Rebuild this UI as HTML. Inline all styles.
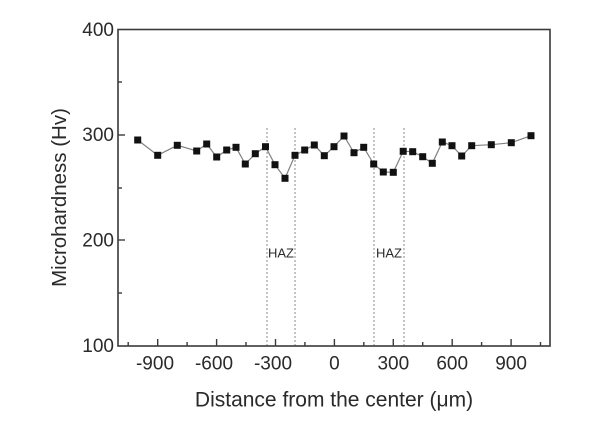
<!DOCTYPE html>
<html><head><meta charset="utf-8"><style>
html,body{margin:0;padding:0;background:#fff;}
svg{display:block;}
text{font-family:"Liberation Sans",Arial,sans-serif;fill:#2a2a2a;}
</style></head><body>
<svg width="600" height="431" viewBox="0 0 600 431" xmlns="http://www.w3.org/2000/svg">
<rect x="0" y="0" width="600" height="431" fill="#fff"/>
<!-- HAZ dashed lines -->
<g stroke="#8a8a8a" stroke-width="1" stroke-dasharray="2,2">
<line x1="267" y1="128" x2="267" y2="346"/>
<line x1="295" y1="128" x2="295" y2="346"/>
<line x1="374" y1="128" x2="374" y2="346"/>
<line x1="404" y1="128" x2="404" y2="346"/>
</g>
<text x="281" y="257.5" font-size="13" text-anchor="middle">HAZ</text>
<text x="389" y="257.5" font-size="13" text-anchor="middle">HAZ</text>
<!-- frame -->
<rect x="118" y="29.5" width="432" height="316.5" fill="none" stroke="#3a3a3a" stroke-width="1.6"/>
<!-- ticks -->
<g stroke="#3a3a3a" stroke-width="1.4">
<line x1="157.7" y1="346" x2="157.7" y2="339"/>
<line x1="216.6" y1="346" x2="216.6" y2="339"/>
<line x1="275.5" y1="346" x2="275.5" y2="339"/>
<line x1="334.4" y1="346" x2="334.4" y2="339"/>
<line x1="393.3" y1="346" x2="393.3" y2="339"/>
<line x1="452.2" y1="346" x2="452.2" y2="339"/>
<line x1="511.1" y1="346" x2="511.1" y2="339"/>
<line x1="128.2" y1="346" x2="128.2" y2="342"/>
<line x1="187.1" y1="346" x2="187.1" y2="342"/>
<line x1="246" y1="346" x2="246" y2="342"/>
<line x1="304.9" y1="346" x2="304.9" y2="342"/>
<line x1="363.8" y1="346" x2="363.8" y2="342"/>
<line x1="422.7" y1="346" x2="422.7" y2="342"/>
<line x1="481.6" y1="346" x2="481.6" y2="342"/>
<line x1="540.5" y1="346" x2="540.5" y2="342"/>
<line x1="118" y1="135" x2="125" y2="135"/>
<line x1="118" y1="240" x2="125" y2="240"/>
<line x1="118" y1="82" x2="122" y2="82"/>
<line x1="118" y1="188" x2="122" y2="188"/>
<line x1="118" y1="293" x2="122" y2="293"/>
</g>
<!-- tick labels -->
<g font-size="19" text-anchor="end">
<text x="114" y="36">400</text>
<text x="114" y="141">300</text>
<text x="114" y="246.5">200</text>
<text x="114" y="352">100</text>
</g>
<g font-size="19" text-anchor="middle">
<text x="155" y="369.5">-900</text>
<text x="214" y="369.5">-600</text>
<text x="273" y="369.5">-300</text>
<text x="334.4" y="369.5">0</text>
<text x="393.3" y="369.5">300</text>
<text x="452.2" y="369.5">600</text>
<text x="511.1" y="369.5">900</text>
</g>
<!-- axis titles -->
<text x="334" y="406.5" font-size="21" text-anchor="middle">Distance from the center (μm)</text>
<text transform="translate(66,197.5) rotate(-90)" font-size="20.5" text-anchor="middle">Microhardness (Hv)</text>
<!-- data line -->
<polyline fill="none" stroke="#808080" stroke-width="1.2" points="137.7,140 157.7,155.3 177.3,145.3 196.7,151 206.7,144 216.7,157 226.7,150 236,147.3 245.3,164 255.3,153.7 265.5,146.7 275,164.7 285,178.3 295,155.3 304.7,150 314.3,145 324.3,155.7 334,146.7 344,136 354,152.7 363.7,147.3 373.7,164 383.3,172 393.3,172.3 403.2,151.3 412.7,151.7 422.7,156.7 432.3,163.3 442.3,142 452,145.7 461.7,156 471.7,145.7 491.3,144.7 511.3,142.7 531,135.7"/>
<g fill="#111">
<rect x="134.2" y="136.5" width="7" height="7"/>
<rect x="154.2" y="151.8" width="7" height="7"/>
<rect x="173.8" y="141.8" width="7" height="7"/>
<rect x="193.2" y="147.5" width="7" height="7"/>
<rect x="203.2" y="140.5" width="7" height="7"/>
<rect x="213.2" y="153.5" width="7" height="7"/>
<rect x="223.2" y="146.5" width="7" height="7"/>
<rect x="232.5" y="143.8" width="7" height="7"/>
<rect x="241.8" y="160.5" width="7" height="7"/>
<rect x="251.8" y="150.2" width="7" height="7"/>
<rect x="262" y="143.2" width="7" height="7"/>
<rect x="271.5" y="161.2" width="7" height="7"/>
<rect x="281.5" y="174.8" width="7" height="7"/>
<rect x="291.5" y="151.8" width="7" height="7"/>
<rect x="301.2" y="146.5" width="7" height="7"/>
<rect x="310.8" y="141.5" width="7" height="7"/>
<rect x="320.8" y="152.2" width="7" height="7"/>
<rect x="330.5" y="143.2" width="7" height="7"/>
<rect x="340.5" y="132.5" width="7" height="7"/>
<rect x="350.5" y="149.2" width="7" height="7"/>
<rect x="360.2" y="143.8" width="7" height="7"/>
<rect x="370.2" y="160.5" width="7" height="7"/>
<rect x="379.8" y="168.5" width="7" height="7"/>
<rect x="389.8" y="168.8" width="7" height="7"/>
<rect x="399.7" y="147.8" width="7" height="7"/>
<rect x="409.2" y="148.2" width="7" height="7"/>
<rect x="419.2" y="153.2" width="7" height="7"/>
<rect x="428.8" y="159.8" width="7" height="7"/>
<rect x="438.8" y="138.5" width="7" height="7"/>
<rect x="448.5" y="142.2" width="7" height="7"/>
<rect x="458.2" y="152.5" width="7" height="7"/>
<rect x="468.2" y="142.2" width="7" height="7"/>
<rect x="487.8" y="141.2" width="7" height="7"/>
<rect x="507.8" y="139.2" width="7" height="7"/>
<rect x="527.5" y="132.2" width="7" height="7"/>
</g>
</svg>
</body></html>
